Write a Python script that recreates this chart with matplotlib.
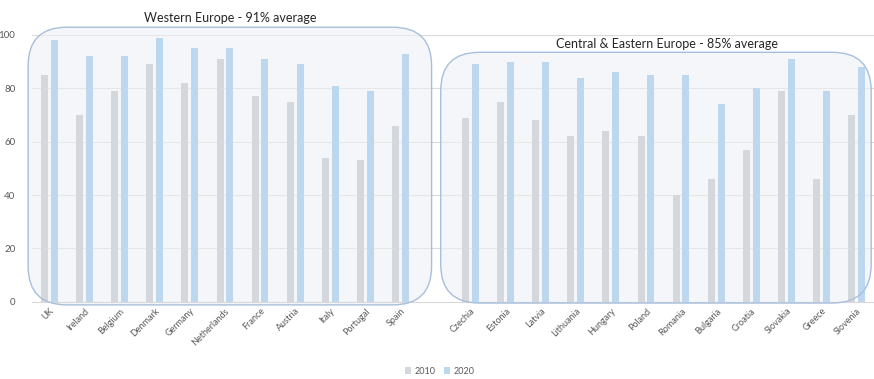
import matplotlib
matplotlib.use("Agg")
import matplotlib.pyplot as plt
import numpy as np
from matplotlib.patches import FancyBboxPatch, Patch

plt.rcParams['font.family'] = ['Lato', 'DejaVu Sans']

western = ["UK", "Ireland", "Belgium", "Denmark", "Germany", "Netherlands",
           "France", "Austria", "Italy", "Portugal", "Spain"]
western_2010 = [85, 70, 79, 89, 82, 91, 77, 75, 54, 53, 66]
western_2020 = [98, 92, 92, 99, 95, 95, 91, 89, 81, 79, 93]

eastern = ["Czechia", "Estonia", "Latvia", "Lithuania", "Hungary", "Poland",
           "Romania", "Bulgaria", "Croatia", "Slovakia", "Greece", "Slovenia"]
eastern_2010 = [69, 75, 68, 62, 64, 62, 40, 46, 57, 79, 46, 70]
eastern_2020 = [89, 90, 90, 84, 86, 85, 85, 74, 80, 91, 79, 88]

years = ["2010", "2020"]
group_titles = ["Western Europe - 91% average", "Central & Eastern Europe - 85% average"]

c2010 = "#d4d7db"
c2020 = "#bdd7ee"
text_col = "#595959"

# one empty slot separates the two regions
labels = western + [""] + eastern
v2010 = western_2010 + [np.nan] + eastern_2010
v2020 = western_2020 + [np.nan] + eastern_2020
x = np.arange(len(labels))

fig = plt.figure(figsize=(8.74, 3.79), dpi=100)
ax = fig.add_axes([0.0366, 0.204, 0.9634, 0.7037])

w = 0.2
off = 0.14
ax.bar(x - off, v2010, width=w, color=c2010, zorder=3)
ax.bar(x + off, v2020, width=w, color=c2020, zorder=3)

ax.set_xlim(-0.5, len(labels) - 0.5)
ax.set_ylim(0, 100)
ax.set_yticks(range(0, 101, 20))
ax.yaxis.grid(True, color="#d9d9d9", linewidth=0.8, zorder=0)
ax.set_axisbelow(True)
for s in ["top", "right", "left"]:
    ax.spines[s].set_visible(False)
ax.spines["bottom"].set_color("#d9d9d9")
ax.tick_params(axis="both", length=0, labelsize=7, labelcolor=text_col)
ax.tick_params(axis="y", pad=12)

ticks = [i for i, l in enumerate(labels) if l]
ax.set_xticks(ticks)
ax.set_xticklabels([labels[i] for i in ticks], rotation=45, ha="right",
                   rotation_mode="anchor", fontsize=6.5)

# rounded region boxes, in data units with aspect correction
bbox = ax.get_window_extent()
px_x = bbox.width / (len(labels))
px_y = bbox.height / 100.0
aspect = px_x / px_y
boxes = [(-0.61, -1.2, 10.89, 102.9), (11.15, -0.5, 23.42, 93.5)]
style = "round,pad=0,rounding_size=1.1"
for (x0, y0, x1, y1) in boxes:
    fill = FancyBboxPatch((x0, y0), x1 - x0, y1 - y0, boxstyle=style,
                          mutation_aspect=aspect, facecolor="#eef1f5",
                          edgecolor="none", alpha=0.6, zorder=1, clip_on=False)
    edge = FancyBboxPatch((x0, y0), x1 - x0, y1 - y0, boxstyle=style,
                          mutation_aspect=aspect, facecolor="none",
                          edgecolor="#a8bfdc", linewidth=1.0, zorder=4,
                          clip_on=False)
    ax.add_patch(fill)
    ax.add_patch(edge)

ax.text(5.15, 106.5, group_titles[0], ha="center", va="center",
        fontsize=9, color="#262626")
ax.text(17.6, 96.5, group_titles[1], ha="center", va="center",
        fontsize=9, color="#262626", zorder=5)

handles = [Patch(facecolor=c2010, edgecolor="none"),
           Patch(facecolor=c2020, edgecolor="none")]
fig.legend(handles, years, loc="center", bbox_to_anchor=(0.503, 0.021),
           ncol=2, frameon=False, fontsize=6.5, handlelength=0.7,
           handleheight=0.7, handletextpad=0.3, columnspacing=1.0,
           labelcolor=text_col)

fig.savefig("out.png", dpi=100)
